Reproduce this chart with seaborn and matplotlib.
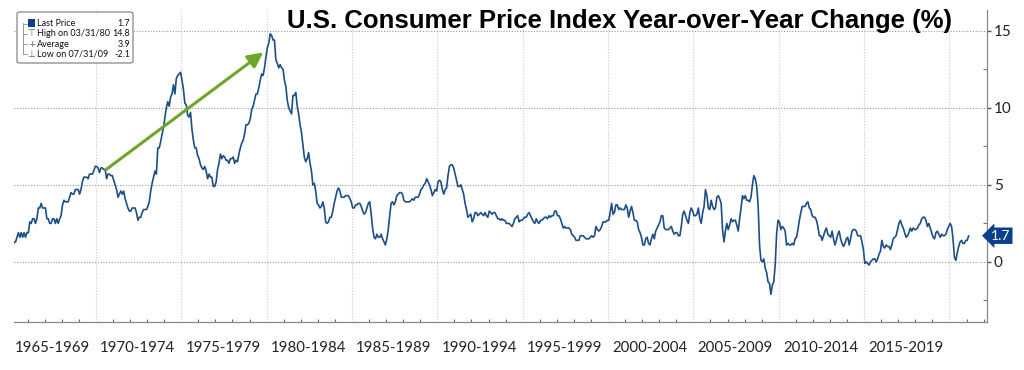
import matplotlib

matplotlib.use("Agg")
import matplotlib.pyplot as plt
import numpy as np
import pandas as pd
import seaborn as sns
from matplotlib.patches import FancyBboxPatch, Rectangle
from matplotlib.ticker import FixedLocator, MultipleLocator
from matplotlib.transforms import blended_transform_factory

# Monthly U.S. CPI year-over-year change (%), one row per year from 1965.
start_year = 1965
cpi_yoy = [
    1.0, 1.0, 1.3, 1.3, 1.6, 1.9, 1.6, 1.9, 1.6, 1.9, 1.6, 1.9,
    1.9, 2.6, 2.5, 2.8, 2.8, 2.5, 2.8, 3.5, 3.5, 3.8, 3.5, 3.5,
    3.5, 2.8, 2.8, 2.5, 2.5, 2.8, 2.8, 2.5, 2.8, 2.5, 2.8, 3.0,
    3.7, 4.0, 3.9, 3.9, 3.9, 4.2, 4.5, 4.4, 4.4, 4.7, 4.7, 4.7,
    4.4, 4.7, 5.2, 5.5, 5.5, 5.5, 5.4, 5.7, 5.7, 5.7, 5.9, 6.2,
    6.2, 6.1, 5.8, 6.1, 6.1, 6.0, 6.0, 5.4, 5.7, 5.7, 5.6, 5.6,
    5.3, 5.0, 4.7, 4.2, 4.4, 4.6, 4.4, 4.6, 4.1, 3.8, 3.5, 3.3,
    3.3, 3.5, 3.5, 3.5, 3.2, 2.7, 2.9, 2.9, 3.2, 3.4, 3.4, 3.4,
    3.6, 3.9, 4.6, 5.1, 5.5, 5.9, 5.7, 7.4, 7.4, 7.8, 8.3, 8.7,
    9.4, 10.0, 10.4, 10.1, 10.7, 10.9, 11.5, 10.9, 11.9, 12.1, 12.2, 12.3,
    11.8, 11.2, 10.3, 10.2, 9.5, 9.4, 9.7, 8.6, 7.9, 7.4, 7.4, 6.9,
    6.7, 6.3, 6.1, 6.0, 6.2, 5.9, 5.4, 5.7, 5.5, 5.5, 4.9, 4.9,
    5.2, 6.0, 6.4, 7.0, 6.7, 6.9, 6.8, 6.6, 6.6, 6.4, 6.7, 6.7,
    6.8, 6.4, 6.6, 6.5, 7.0, 7.4, 7.7, 7.9, 8.3, 8.9, 8.9, 9.0,
    9.3, 9.9, 10.1, 10.5, 10.9, 10.9, 11.3, 11.8, 12.2, 12.1, 12.6, 13.3,
    13.9, 14.2, 14.8, 14.7, 14.4, 14.4, 13.1, 12.9, 12.6, 12.8, 12.6, 12.5,
    11.8, 11.4, 10.5, 10.0, 9.8, 9.6, 10.8, 10.8, 11.0, 10.1, 9.6, 8.9,
    8.4, 7.6, 6.8, 6.5, 6.7, 7.1, 6.4, 5.9, 5.0, 5.1, 4.6, 3.8,
    3.7, 3.5, 3.6, 3.9, 3.5, 2.6, 2.5, 2.6, 2.9, 2.9, 3.3, 3.8,
    4.2, 4.6, 4.8, 4.6, 4.2, 4.2, 4.2, 4.3, 4.3, 4.3, 4.1, 3.9,
    3.5, 3.5, 3.7, 3.7, 3.8, 3.8, 3.6, 3.3, 3.1, 3.2, 3.5, 3.8,
    3.9, 3.1, 2.2, 1.6, 1.5, 1.8, 1.6, 1.6, 1.8, 1.5, 1.3, 1.1,
    1.5, 2.1, 3.0, 3.8, 3.9, 3.7, 3.9, 4.3, 4.4, 4.5, 4.5, 4.4,
    4.0, 3.9, 3.9, 3.9, 3.9, 4.0, 4.1, 4.0, 4.2, 4.2, 4.2, 4.4,
    4.7, 4.8, 5.0, 5.1, 5.4, 5.2, 5.0, 4.7, 4.3, 4.5, 4.7, 4.6,
    5.2, 5.3, 5.2, 4.7, 4.4, 4.7, 4.8, 5.6, 6.2, 6.3, 6.3, 6.1,
    5.7, 5.3, 4.9, 4.9, 5.0, 4.7, 4.4, 3.8, 3.4, 2.9, 3.0, 3.1,
    2.6, 2.8, 3.2, 3.2, 3.0, 3.1, 3.2, 3.1, 3.0, 3.2, 3.0, 2.9,
    3.3, 3.2, 3.1, 3.2, 3.2, 3.0, 2.8, 2.8, 2.7, 2.8, 2.7, 2.7,
    2.5, 2.5, 2.5, 2.4, 2.3, 2.5, 2.8, 2.9, 3.0, 2.6, 2.7, 2.7,
    2.8, 2.9, 2.9, 3.1, 3.2, 3.0, 2.8, 2.6, 2.5, 2.8, 2.6, 2.5,
    2.7, 2.7, 2.8, 2.9, 2.9, 2.8, 3.0, 2.9, 3.0, 3.0, 3.3, 3.3,
    3.0, 3.0, 2.8, 2.5, 2.2, 2.3, 2.2, 2.2, 2.2, 2.1, 1.8, 1.7,
    1.6, 1.4, 1.4, 1.4, 1.7, 1.7, 1.7, 1.6, 1.5, 1.5, 1.5, 1.6,
    1.7, 1.6, 1.7, 2.3, 2.1, 2.0, 2.1, 2.3, 2.6, 2.6, 2.6, 2.7,
    2.7, 3.2, 3.8, 3.1, 3.2, 3.7, 3.7, 3.4, 3.5, 3.4, 3.4, 3.4,
    3.7, 3.5, 2.9, 3.3, 3.6, 3.2, 2.7, 2.7, 2.6, 2.1, 1.9, 1.6,
    1.1, 1.1, 1.5, 1.6, 1.2, 1.1, 1.5, 1.8, 1.5, 2.0, 2.2, 2.4,
    2.6, 3.0, 3.0, 2.2, 2.1, 2.1, 2.1, 2.2, 2.3, 2.0, 1.8, 1.9,
    1.9, 1.7, 1.7, 2.3, 3.1, 3.3, 3.0, 2.7, 2.5, 3.2, 3.5, 3.3,
    3.0, 3.0, 3.1, 3.5, 2.8, 2.5, 3.2, 3.6, 4.7, 4.3, 3.5, 3.4,
    4.0, 3.6, 3.4, 3.5, 4.2, 4.3, 4.1, 3.8, 2.1, 1.3, 2.0, 2.5,
    2.1, 2.4, 2.8, 2.6, 2.7, 2.7, 2.4, 2.0, 2.8, 3.5, 4.3, 4.1,
    4.3, 4.0, 4.0, 3.9, 4.2, 5.0, 5.6, 5.4, 4.9, 3.7, 1.1, 0.1,
    0.0, 0.2, -0.4, -0.7, -1.3, -1.4, -2.1, -1.5, -1.3, -0.2, 1.8, 2.7,
    2.6, 2.1, 2.3, 2.2, 2.0, 1.1, 1.2, 1.1, 1.1, 1.2, 1.1, 1.5,
    1.6, 2.1, 2.7, 3.2, 3.6, 3.6, 3.6, 3.8, 3.9, 3.5, 3.4, 3.0,
    2.9, 2.9, 2.7, 2.3, 1.7, 1.7, 1.4, 1.7, 2.0, 2.2, 1.8, 1.7,
    1.6, 2.0, 1.5, 1.1, 1.4, 1.8, 2.0, 1.5, 1.2, 1.0, 1.2, 1.5,
    1.6, 1.1, 1.5, 2.0, 2.1, 2.1, 2.0, 1.7, 1.7, 1.7, 1.3, 0.8,
    -0.1, 0.0, -0.1, -0.2, 0.0, 0.1, 0.2, 0.2, 0.0, 0.2, 0.5, 0.7,
    1.4, 1.0, 0.9, 1.1, 1.0, 1.0, 0.8, 1.1, 1.5, 1.6, 1.7, 2.1,
    2.5, 2.7, 2.4, 2.2, 1.9, 1.6, 1.7, 1.9, 2.2, 2.0, 2.2, 2.1,
    2.1, 2.2, 2.4, 2.5, 2.8, 2.9, 2.9, 2.7, 2.3, 2.5, 2.2, 1.9,
    1.6, 1.5, 1.9, 2.0, 1.8, 1.6, 1.8, 1.7, 1.7, 1.8, 2.1, 2.3,
    2.5, 2.3, 1.5, 0.3, 0.1, 0.6, 1.0, 1.3, 1.4, 1.2, 1.2, 1.4,
    1.4, 1.7,
]

period_labels = [
    "1965-1969", "1970-1974", "1975-1979", "1980-1984", "1985-1989",
    "1990-1994", "1995-1999", "2000-2004", "2005-2009", "2010-2014",
    "2015-2019",
]
period_starts = [1965 + 5 * i for i in range(len(period_labels))]
y_ticks = [0, 5, 10, 15]

last_price = 1.7
legend_labels = ["Last Price", "High on 03/31/80", "Average", "Low on 07/31/09"]
legend_values = ["1.7", "14.8", "3.9", "-2.1"]
legend_marks = ["", "\u22a4", "+", "\u22a5"]

title = "U.S. Consumer Price Index Year-over-Year Change (%)"

# trend arrow drawn on the chart (start -> end, in year / percent)
arrow_start = (1970.6, 6.0)
arrow_end = (1979.8, 13.6)

df = pd.DataFrame({"value": cpi_yoy})
df["year"] = start_year + (np.arange(len(df)) + 0.5) / 12.0

# --------------------------------------------------------------------------
W, H = 1024, 370
sns.set_style("white")
plt.rcParams["font.family"] = ["Lato", "DejaVu Sans"]

fig = plt.figure(figsize=(W / 100, H / 100), dpi=100)
ax = fig.add_axes([14 / W, 1 - 322 / H, (987 - 14) / W, (322 - 10) / H])

line_colour = "#1d4f86"
sns.lineplot(data=df, x="year", y="value", ax=ax, color=line_colour,
             linewidth=1.2, zorder=3)

ax.set_xlim(1965.2, 2022.2)
ax.set_ylim(-3.9, 16.35)
ax.set_xlabel("")
ax.set_ylabel("")

# y axis on the right
ax.yaxis.tick_right()
ax.yaxis.set_major_locator(FixedLocator(y_ticks))
ax.yaxis.set_minor_locator(MultipleLocator(2.5))
ax.tick_params(axis="y", which="major", direction="out", length=3, width=1,
               color="#555555", labelsize=11, labelcolor="#222222", pad=2)
ax.tick_params(axis="y", which="minor", direction="in", length=3, width=0.8,
               color="#777777", right=True, left=False)

# x axis: long separators at period boundaries, small yearly ticks
ax.xaxis.set_major_locator(FixedLocator(period_starts[1:] + [2020]))
ax.xaxis.set_minor_locator(MultipleLocator(1))
ax.set_xticklabels([])
ax.tick_params(axis="x", which="major", direction="out", length=24, width=0.8,
               color="#bbbbbb")
ax.tick_params(axis="x", which="minor", direction="in", length=2.5, width=0.8,
               color="#666666", bottom=True)

trans = blended_transform_factory(ax.transData, ax.transAxes)
for start, lab in zip(period_starts, period_labels):
    ax.text(start + 2.45, -0.082, lab, transform=trans, ha="center",
            va="center", fontsize=10.8, color="#222222")

# grid
ax.grid(False)
for y in y_ticks:
    ax.axhline(y, color="#9a9a9a", linestyle=(0, (1, 1.5)), linewidth=0.8,
               zorder=1)
for x in period_starts[1:] + [2020]:
    ax.axvline(x, color="#cccccc", linestyle=(0, (1, 1.5)), linewidth=0.8,
               zorder=1)

for side in ["left", "top"]:
    ax.spines[side].set_visible(False)
for side in ["right", "bottom"]:
    ax.spines[side].set_color("#888888")
    ax.spines[side].set_linewidth(0.9)

# trend arrow
ax.annotate("", xy=arrow_end, xytext=arrow_start,
            arrowprops=dict(arrowstyle="-|>,head_length=0.9,head_width=0.45",
                            color="#6ea62a", lw=2.2, shrinkA=0, shrinkB=0),
            zorder=4)

# last price tag
ax.text(1.004, last_price, f"{last_price:.1f}",
        transform=blended_transform_factory(ax.transAxes, ax.transData),
        ha="left", va="center", fontsize=10, color="white",
        bbox=dict(boxstyle="larrow,pad=0.16", fc="#0b3f8c", ec="none"),
        clip_on=False, zorder=5)

# title
fig.text(952 / W, 1 - 21 / H, title, ha="right", va="center",
         fontsize=18.5, fontweight="bold", family="Liberation Sans",
         color="black")

# legend box
def fx(px):
    return px / W


def fy(py):
    return 1 - py / H


box = FancyBboxPatch((fx(17), fy(63)), fx(116), (63 - 12) / H,
                     boxstyle="round,pad=0,rounding_size=0.004",
                     transform=fig.transFigure, fc="white", ec="#777777",
                     lw=0.8, zorder=10)
fig.patches.append(box)
fig.lines.append(plt.Line2D([fx(23), fx(23)], [fy(23), fy(54)],
                            transform=fig.transFigure, color="#999999",
                            lw=0.7, zorder=11))
fig.patches.append(Rectangle((fx(28), fy(26.5)), fx(7), 7 / H,
                             transform=fig.transFigure, fc="#0b3f8c",
                             ec="none", zorder=11))
for i, (lab, val, mark) in enumerate(zip(legend_labels, legend_values,
                                         legend_marks)):
    yy = fy(23.5 + i * 10.3)
    fig.lines.append(plt.Line2D([fx(23), fx(27)], [yy, yy],
                                transform=fig.transFigure, color="#999999",
                                lw=0.7, zorder=11))
    if mark:
        fig.text(fx(31.5), yy, mark, ha="center", va="center", fontsize=6.5,
                 color="#666666", family="DejaVu Sans", zorder=12)
    fig.text(fx(37), yy, lab, ha="left", va="center", fontsize=6.5,
             color="#111111", zorder=12)
    fig.text(fx(130), yy, val, ha="right", va="center", fontsize=6.5,
             color="#111111", zorder=12)

fig.savefig("out.png", dpi=100)
